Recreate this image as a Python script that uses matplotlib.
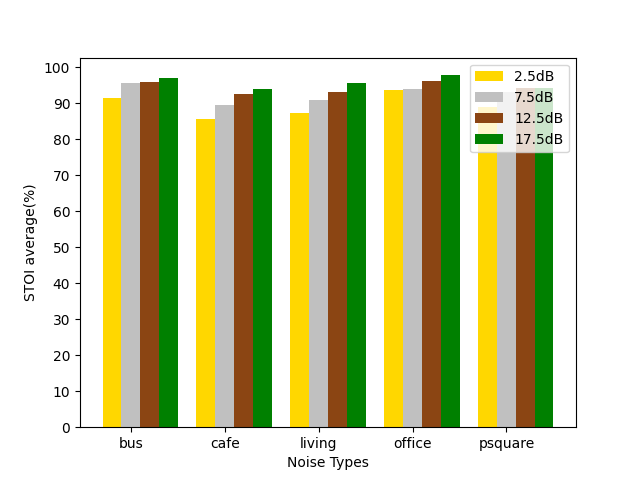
import numpy as np
import matplotlib.pyplot as plt

noise_types = ['bus', 'cafe', 'living', 'office', 'psquare']
snr_labels = ['2.5dB', '7.5dB', '12.5dB', '17.5dB']
snr_2_5 = [91.4, 85.6, 87.2, 93.6, 89.0]
snr_7_5 = [95.6, 89.4, 90.8, 93.9, 93.0]
snr_12_5 = [95.8, 92.5, 93.0, 96.1, 94.3]
snr_17_5 = [96.9, 93.9, 95.6, 97.8, 94.2]

colors = ['gold', 'silver', 'saddlebrown', 'green']
width = 0.2
x = np.arange(len(noise_types))

fig, ax = plt.subplots(figsize=(6.4, 4.8), dpi=100)
for i, vals in enumerate([snr_2_5, snr_7_5, snr_12_5, snr_17_5]):
    ax.bar(x + (i - 1) * width, vals, width, color=colors[i], label=snr_labels[i])

ax.set_xticks(x)
ax.set_xticklabels(noise_types)
ax.set_yticks(np.arange(0, 101, 10))
ax.set_xlabel('Noise Types')
ax.set_ylabel('STOI average(%)')
ax.legend(loc='upper right')
fig.savefig('out.png')
